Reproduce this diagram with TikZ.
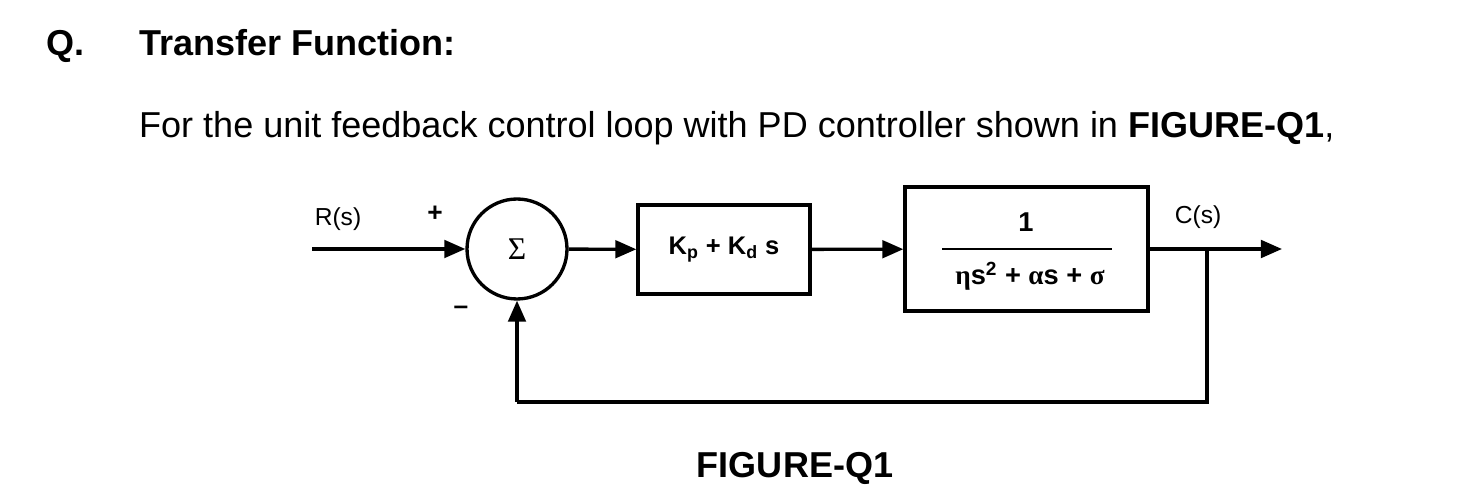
\documentclass[tikz,border=0pt]{standalone}
\usepackage{fontspec}
\setmainfont{Liberation Sans}
\newfontfamily\gr{Liberation Serif}
\usetikzlibrary{arrows.meta}
\begin{document}
\begin{tikzpicture}[x=0.02cm,y=-0.02cm,
  blk/.style={draw,line width=1.9pt,inner sep=0pt},
  sig/.style={line width=1.9pt,-{Triangle[length=12pt,width=10pt]}},
  ln/.style={line width=1.9pt},
  lbl/.style={font=\fontsize{14}{16}\selectfont},
  big/.style={font=\fontsize{20.5}{24}\selectfont,anchor=base west}]
\useasboundingbox (0,0) rectangle (1462,492);
\node[big,font=\fontsize{20.5}{24}\selectfont\bfseries] (q) at (40,56) {Q.};
\node[big,font=\fontsize{20.5}{24}\selectfont\bfseries] (t) at (133,56) {Transfer Function:};
\node[big] (intro) at (133,138) {For the unit feedback control loop with PD controller shown in \textbf{FIGURE-Q1},};
\node[draw,circle,line width=1.9pt,minimum size=2cm,inner sep=0pt] (sum) at (517,249) {\fontsize{18}{20}\selectfont\gr Σ};
\node[blk,minimum width=3.44cm,minimum height=1.78cm] (c) at (724,249.5) {\fontsize{14.5}{16}\selectfont\bfseries K\textsubscript{p} + K\textsubscript{d} s};
\node[blk,minimum width=4.86cm,minimum height=2.48cm] (g) at (1026.5,249) {};
\node[font=\fontsize{15.5}{18}\selectfont\bfseries] (num) at (1026,222) {1};
\node[font=\fontsize{15.5}{18}\selectfont\bfseries] (den) at (1030,276) {{\gr η}s\textsuperscript{2} + {\gr α}s + {\gr σ}};
\draw[line width=1.2pt] (942,249) -- (1112,249);
\coordinate (in) at (312,249);
\coordinate (out) at (1282,249);
\coordinate (br) at (1207,249);
\coordinate (fb1) at (1207,402);
\coordinate (fb2) at (517,402);
\draw[sig] (in) -- (sum);
\draw[sig] (sum) -- (c);
\draw[sig] (c) -- (g);
\draw[sig] (g) -- (out);
\draw[ln] (br) -- (fb1) -- (fb2);
\draw[sig] (fb2) -- (sum);
\node[lbl] (r) at (338,219) {R(s)};
\node[lbl] (cs) at (1198,217) {C(s)};
\node[font=\fontsize{15}{16}\selectfont\bfseries] (p) at (435,214) {+};
\node[font=\fontsize{15}{16}\selectfont\bfseries] (m) at (461,310) {\textendash};
\node[font=\fontsize{20.5}{24}\selectfont\bfseries,anchor=base] (fig) at (795,478) {FIGURE-Q1};
\end{tikzpicture}
\end{document}
